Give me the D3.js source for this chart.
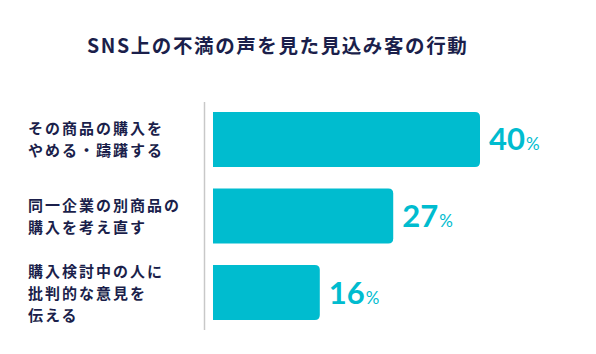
<!DOCTYPE html>
<html>
<head>
<meta charset="utf-8">
<script src="https://cdn.jsdelivr.net/npm/d3@7"></script>
<style>
  body { margin: 0; background: #fff; }
  svg { display: block; }
  .cat { font-family: "Noto Sans CJK JP", sans-serif; font-weight: 700; font-size: 15px; fill: #1b1f4b; letter-spacing: 2px; }
  .title { font-family: "Noto Sans CJK JP", sans-serif; font-weight: 700; font-size: 19.5px; fill: #1b1f4b; letter-spacing: 1.6px; }
  .val { font-family: Lato, sans-serif; font-weight: 700; fill: #00bccf; }
</style>
</head>
<body>
<svg id="chart"></svg>
<script>
// data
var title = "SNS上の不満の声を見た見込み客の行動";
var categories = [
    ["その商品の購入を", "やめる・躊躇する"],
    ["同一企業の別商品の", "購入を考え直す"],
    ["購入検討中の人に", "批判的な意見を", "伝える"]
];
var values = [40, 27, 16];

var width = 596, height = 354;
var svg = d3.select('#chart')
    .attr("width", width)
    .attr("height", height);

// title
svg.append("text")
    .attr("class", "title")
    .attr("x", 87)
    .attr("y", 53)
    .text(title);

// scales
var x = d3.scaleLinear()
    .domain([0, 40])
    .range([213, 480]);
var y = d3.scaleBand()
    .domain(d3.range(values.length))
    .range([102, 330])
    .paddingInner(0.28)
    .paddingOuter(0.13);

// vertical axis line
svg.append("line")
    .attr("x1", 204.5).attr("x2", 204.5)
    .attr("y1", y.range()[0]).attr("y2", y.range()[1])
    .attr("stroke", "#c8c8c8")
    .attr("stroke-width", 1.5);

// bars, rounded on the right side only
var r = 5;
svg.selectAll("path.bar")
    .data(values)
    .enter().append("path")
    .attr("class", "bar")
    .attr("fill", "#00bccf")
    .attr("d", function(d, i) {
        var x0 = x(0), x1 = x(d), y0 = y(i), y1 = y(i) + y.bandwidth();
        return "M" + x0 + "," + y0 +
            "H" + (x1 - r) +
            "Q" + x1 + "," + y0 + " " + x1 + "," + (y0 + r) +
            "V" + (y1 - r) +
            "Q" + x1 + "," + y1 + " " + (x1 - r) + "," + y1 +
            "H" + x0 + "Z";
    });

// value labels
var vals = svg.selectAll("text.val")
    .data(values)
    .enter().append("text")
    .attr("class", "val")
    .attr("x", function(d) { return x(d) + 9; })
    .attr("y", function(d, i) { return y(i) + y.bandwidth() / 2 + 11; });
vals.append("tspan").attr("font-size", 31).text(function(d) { return d; });
vals.append("tspan").attr("font-size", 17).attr("font-weight", 400).attr("dx", 1).text("%");

// category labels, one text per line
var lineH = 22;
categories.forEach(function(lines, i) {
    var cy = y(i) + y.bandwidth() / 2;
    var y0 = cy - (lines.length - 1) * lineH / 2 + 6;
    lines.forEach(function(l, j) {
        svg.append("text")
            .attr("class", "cat")
            .attr("x", 28)
            .attr("y", y0 + j * lineH)
            .text(l);
    });
});
</script>
</body>
</html>
